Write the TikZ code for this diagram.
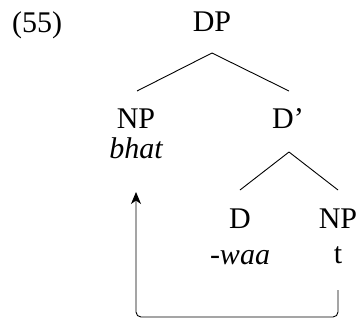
\documentclass[tikz,border=0pt]{standalone}
\usepackage{fontspec}
\setmainfont{Liberation Serif}
\usetikzlibrary{arrows.meta}
\begin{document}
\begin{tikzpicture}[x=1pt,y=-1pt,
  lbl/.style={anchor=base,inner sep=0pt,font=\fontsize{30}{35}\selectfont},
  edge/.style={line width=0.9pt},
  mv/.style={line width=0.9pt,rounded corners=5pt}]
\useasboundingbox (0,0) rectangle (358,322);
\node[lbl,anchor=base west] (ex) at (12,32) {(55)};
\node[lbl] (DP) at (212,31) {DP};
\node[lbl] (NP) at (136,128) {NP};
\node[lbl] (bhat) at (136,158) {\itshape bhat};
\node[lbl] (Dbar) at (288,128) {D’};
\node[lbl] (D) at (240,228) {D};
\node[lbl] (waa) at (240,264) {-\textit{waa}};
\node[lbl] (NPt) at (338,228) {NP};
\node[lbl] (t) at (338,263) {t};
\draw[edge] ([yshift=-22pt]DP.base) -- ([xshift=1pt,yshift=37pt]NP.base);
\draw[edge] ([yshift=-22pt]DP.base) -- ([xshift=1pt,yshift=37pt]Dbar.base);
\draw[edge] ([xshift=1pt,yshift=-24pt]Dbar.base) -- ([yshift=38pt]D.base);
\draw[edge] ([xshift=1pt,yshift=-24pt]Dbar.base) -- ([yshift=38pt]NPt.base);
\draw[mv,-{Stealth[length=12pt,width=10pt,inset=3.5pt]}] ([yshift=-27pt]t.base) -- ++(0,27) -| ([yshift=-34pt]bhat.base);
\end{tikzpicture}
\end{document}
